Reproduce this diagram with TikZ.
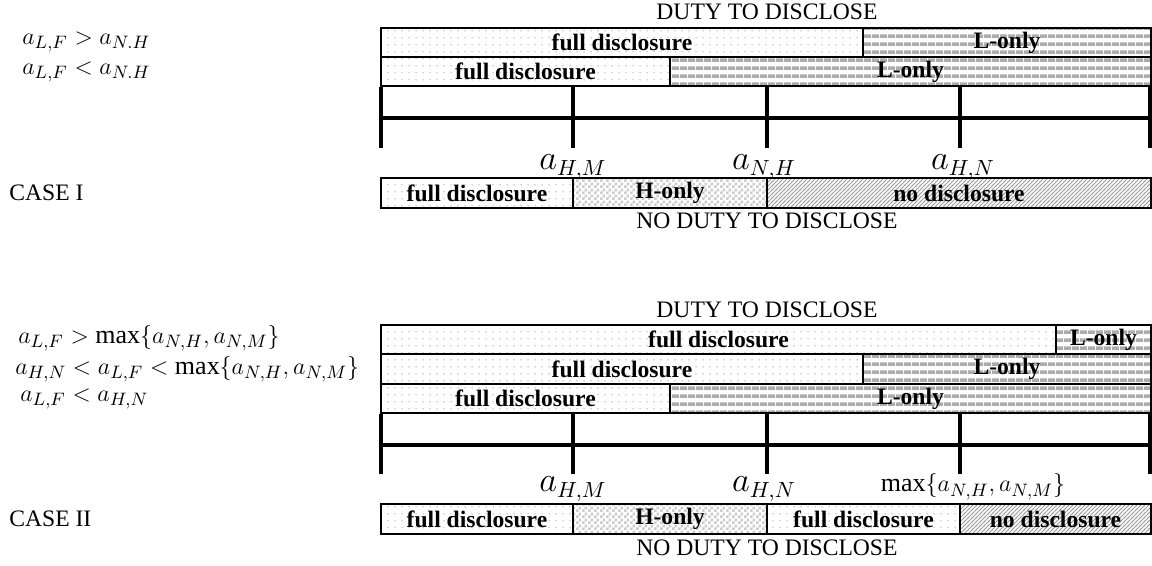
\documentclass[tikz,border=0pt]{standalone}
\usepackage{fontspec}
\setmainfont{Liberation Serif}
\usetikzlibrary{patterns}
% motifs
\pgfdeclarepatternformonly{pdots}{\pgfqpoint{0pt}{0pt}}{\pgfqpoint{3.5pt}{3.5pt}}{\pgfqpoint{3.5pt}{3.5pt}}%
  {\pgfpathcircle{\pgfqpoint{1.75pt}{1.75pt}}{0.4pt}\pgfusepath{fill}}
\pgfdeclarepatternformonly{pstripes}{\pgfqpoint{0pt}{0pt}}{\pgfqpoint{4pt}{4pt}}{\pgfqpoint{4pt}{4pt}}%
  {\pgfpathrectangle{\pgfqpoint{0pt}{0pt}}{\pgfqpoint{4pt}{2pt}}\pgfusepath{fill}}
\pgfdeclarepatternformonly{pcheck}{\pgfqpoint{0pt}{0pt}}{\pgfqpoint{3pt}{3pt}}{\pgfqpoint{3pt}{3pt}}%
  {\pgfpathrectangle{\pgfqpoint{0pt}{0pt}}{\pgfqpoint{1.5pt}{1.5pt}}%
   \pgfpathrectangle{\pgfqpoint{1.5pt}{1.5pt}}{\pgfqpoint{1.5pt}{1.5pt}}\pgfusepath{fill}}
\pgfdeclarepatternformonly{phatch}{\pgfqpoint{-0.5pt}{-0.5pt}}{\pgfqpoint{2.5pt}{2.5pt}}{\pgfqpoint{2pt}{2pt}}%
  {\pgfsetlinewidth{0.4pt}\pgfpathmoveto{\pgfqpoint{-0.5pt}{-0.5pt}}%
   \pgfpathlineto{\pgfqpoint{2.5pt}{2.5pt}}\pgfusepath{stroke}}

\begin{document}
\begin{tikzpicture}[x=0.5pt,y=-0.5pt,
  every node/.style={inner sep=0pt},
  bar/.style={draw=black,line width=0.6pt},
  fulld/.style={bar,pattern=pdots,pattern color=gray!65},
  lonly/.style={bar,pattern=pstripes,pattern color=gray!65},
  honly/.style={bar,pattern=pcheck,pattern color=gray!40},
  nodisc/.style={bar,pattern=phatch,pattern color=gray!75},
  lbl/.style={font=\fontsize{11.8}{12}\selectfont\bfseries},
  titre/.style={font=\fontsize{11.8}{13}\selectfont},
  cas/.style={titre,anchor=west},
  cond/.style={anchor=west,font=\fontsize{13}{14}\selectfont},
  seuil/.style={anchor=base,font=\fontsize{16}{18}\selectfont},
  axe/.style={line width=2pt}]
\useasboundingbox (0,0) rectangle (1152,566);
%
% CASE I
\node[titre] (duI) at (767,12) {DUTY TO DISCLOSE};
\draw[fulld] (381,28) rectangle (863,57) node[lbl,midway] (fIa) {full disclosure};
\draw[lonly] (863,28) rectangle (1151,57) node[lbl,midway] (lIa) {L-only};
\draw[fulld] (381,57) rectangle (670,86) node[lbl,midway] (fIb) {full disclosure};
\draw[lonly] (670,57) rectangle (1151,86) node[lbl,midway] (lIb) {L-only};
\foreach \x in {381,573,767,960,1150}
  \draw[axe] (\x,87) -- (\x,148);
\draw[axe] (381,118) -- (1150,118);
\node[seuil] (hmI) at (573,170) {$a_{H,M}$};
\node[seuil] (nhI) at (764,170) {$a_{N,H}$};
\node[seuil] (hnI) at (963,170) {$a_{H,N}$};
\draw[fulld] (381,178) rectangle (573,208) node[lbl,midway] (fIc) {full disclosure};
\draw[honly] (573,178) rectangle (767,208) node[lbl,midway] (hIc) {H-only};
\draw[nodisc] (767,178) rectangle (1151,208) node[lbl,midway] (nIc) {no disclosure};
\node[titre] (nduI) at (767,221) {NO DUTY TO DISCLOSE};
%
% Etiquettes :
\node[cond] (cIa) at (22,42) {$a_{L,F} > a_{N.H}$};
\node[cond] (cIb) at (22,72) {$a_{L,F} < a_{N.H}$};
\node[cas] (casI) at (9,193) {CASE I};
%
% CASE II
\node[titre] (duII) at (767,310) {DUTY TO DISCLOSE};
\draw[fulld] (381,325) rectangle (1056,354) node[lbl,midway] (fIIa) {full disclosure};
\draw[lonly] (1056,325) rectangle (1151,354) node[lbl,midway] (lIIa) {L-only};
\draw[fulld] (381,354) rectangle (863,384) node[lbl,midway] (fIIb) {full disclosure};
\draw[lonly] (863,354) rectangle (1151,384) node[lbl,midway] (lIIb) {L-only};
\draw[fulld] (381,384) rectangle (670,413) node[lbl,midway] (fIIc) {full disclosure};
\draw[lonly] (670,384) rectangle (1151,413) node[lbl,midway] (lIIc) {L-only};
\foreach \x in {381,573,767,960,1150}
  \draw[axe] (\x,414) -- (\x,474);
\draw[axe] (381,445) -- (1150,445);
\node[seuil] (hmII) at (573,492) {$a_{H,M}$};
\node[seuil] (hnII) at (764,492) {$a_{H,N}$};
\node[seuil,font=\fontsize{13}{14}\selectfont] (mxII) at (973,492) {$\max\{a_{N,H},a_{N,M}\}$};
\draw[fulld] (381,504) rectangle (573,534) node[lbl,midway] (fIId) {full disclosure};
\draw[honly] (573,504) rectangle (767,534) node[lbl,midway] (hIId) {H-only};
\draw[fulld] (767,504) rectangle (960,534) node[lbl,midway] (f2IId) {full disclosure};
\draw[nodisc] (960,504) rectangle (1151,534) node[lbl,midway] (nIId) {no disclosure};
\node[titre] (nduII) at (767,548) {NO DUTY TO DISCLOSE};
%
% Etiquettes :
\node[cond] (cIIa) at (18,338) {$a_{L,F} > \max\{a_{N,H},a_{N,M}\}$};
\node[cond] (cIIb) at (15,369) {$a_{H,N} < a_{L,F} < \max\{a_{N,H},a_{N,M}\}$};
\node[cond] (cIIc) at (20,399) {$a_{L,F} < a_{H,N}$};
\node[cas] (casII) at (9,519) {CASE II};
\end{tikzpicture}
\end{document}
